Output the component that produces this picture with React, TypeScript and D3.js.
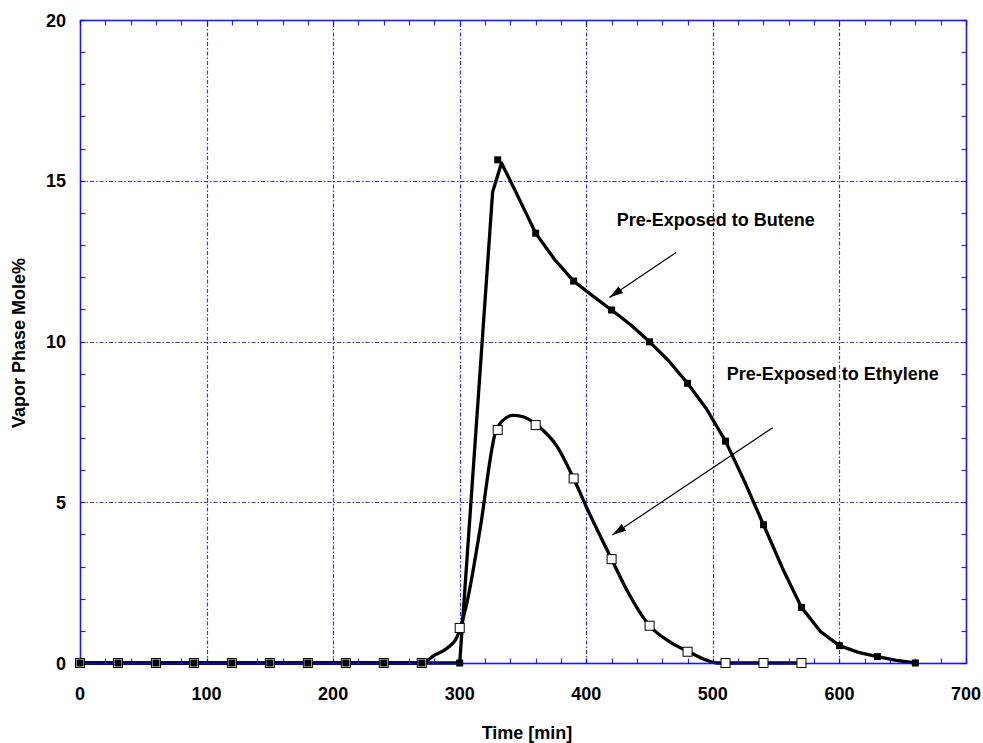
import React from "react";
import * as d3 from "d3";

// Marker data (minutes, vapor phase mole %)
const markerTimes = [0, 30, 60, 90, 120, 150, 180, 210, 240, 270, 300, 330, 360, 390, 420, 450, 480, 510, 540, 570, 600, 630, 660];
const buteneValues = [0, 0, 0, 0, 0, 0, 0, 0, 0, 0, 0, 15.65, 13.37, 11.88, 10.98, 9.99, 8.7, 6.9, 4.3, 1.73, 0.54, 0.2, 0];
const ethyleneTimes = [0, 30, 60, 90, 120, 150, 180, 210, 240, 270, 300, 330, 360, 390, 420, 450, 480, 510, 540, 570];
const ethyleneValues = [0, 0, 0, 0, 0, 0, 0, 0, 0, 0, 1.09, 7.25, 7.4, 5.74, 3.23, 1.16, 0.35, 0, 0, 0];

// Smoothed curves drawn through the data
const buteneCurveTimes = [0, 30, 60, 90, 120, 150, 180, 210, 240, 270, 300, 326, 333, 340, 348, 360, 375, 390, 405, 420, 435, 450, 465, 480, 495, 510, 525, 540, 555, 570, 585, 600, 615, 630, 645, 660];
const buteneCurveValues = [0, 0, 0, 0, 0, 0, 0, 0, 0, 0, 0, 14.65, 15.55, 15.0, 14.35, 13.37, 12.55, 11.88, 11.42, 10.98, 10.52, 9.99, 9.4, 8.7, 7.9, 6.9, 5.65, 4.3, 2.95, 1.73, 0.98, 0.54, 0.33, 0.2, 0.08, 0];
const ethyleneCurveTimes = [0, 30, 60, 90, 120, 150, 180, 210, 240, 270, 280, 290, 298, 305, 316, 328, 334, 342, 350, 361, 377, 390, 400, 420, 432, 450, 466, 481, 495, 503, 510, 540, 570];
const ethyleneCurveValues = [0, 0, 0, 0, 0, 0, 0, 0, 0, 0, 0.24, 0.46, 0.82, 1.75, 4.14, 7.14, 7.54, 7.7, 7.66, 7.4, 6.73, 5.74, 4.86, 3.23, 2.27, 1.16, 0.66, 0.35, 0.09, 0, 0, 0, 0];

const xTicks = [0, 100, 200, 300, 400, 500, 600, 700];
const yTicks = [0, 5, 10, 15, 20];

const annotations = [
  { label: "Pre-Exposed to Butene", tx: 424, ty: 13.6, from: [471, 12.77], to: [418.2, 11.37] },
  { label: "Pre-Exposed to Ethylene", tx: 511, ty: 8.8, from: [547.3, 7.32], to: [420.6, 3.98] },
];

const W = 983;
const H = 743;
const FONT = "'Liberation Sans', Arial, Helvetica, sans-serif";
const AXIS = "#0000ff";
const GRID = "#0000ff";

export default function App() {
  const x = d3.scaleLinear().domain([0, 700]).range([80, 966]);
  const y = d3.scaleLinear().domain([0, 20]).range([663, 20]);
  const px = (t: number) => Math.round(x(t)) + 0.5;
  const py = (v: number) => Math.round(y(v)) + 0.5;

  const butLine = d3
    .line<[number, number]>()
    .x((d) => x(d[0]))
    .y((d) => y(d[1]))
    .curve(d3.curveLinear);
  const ethLine = d3
    .line<[number, number]>()
    .x((d) => x(d[0]))
    .y((d) => y(d[1]))
    .curve(d3.curveMonotoneX);

  const butPts: [number, number][] = buteneCurveTimes.map((t, i) => [t, buteneCurveValues[i]]);
  const ethPts: [number, number][] = ethyleneCurveTimes.map((t, i) => [t, ethyleneCurveValues[i]]);

  const minorX = d3.range(0, 701, 20);
  const minorY = d3.range(0, 21, 1);
  const tickLen = 5;

  return (
    <svg width={W} height={H} style={{ position: "absolute", left: 0, top: 0, background: "#fff" }} fontFamily={FONT}>
      <defs>
        <marker id="arrow" viewBox="0 0 14 8" refX="14" refY="4" markerWidth="14" markerHeight="8" markerUnits="userSpaceOnUse" orient="auto">
          <path d="M0,0 L14,4 L0,8 Z" fill="#000" />
        </marker>
      </defs>
      <rect x={0} y={0} width={W} height={H} fill="#fff" />

      {/* grid */}
      <g>
        {xTicks.filter((t) => t > 0 && t < 700).map((t) => (
          <line key={"gx" + t} x1={px(t)} x2={px(t)} y1={py(0)} y2={py(20)} stroke={GRID} strokeOpacity={0.8} strokeWidth={1.2} strokeDasharray="4,2,1.5,2" />
        ))}
        {yTicks.filter((t) => t > 0 && t < 20).map((t) => (
          <line key={"gy" + t} x1={px(0)} x2={px(700)} y1={py(t)} y2={py(t)} stroke={GRID} strokeOpacity={0.8} strokeWidth={1.2} strokeDasharray="4,2,1.5,2" />
        ))}
      </g>

      {/* curves */}
      <path d={ethLine(ethPts) || ""} fill="none" stroke="#000" strokeWidth={3.3} strokeLinejoin="round" />
      <path d={butLine(butPts) || ""} fill="none" stroke="#000" strokeWidth={3.3} strokeLinejoin="round" />

      {/* frame + ticks */}
      <g>
        <rect x={px(0)} y={py(20)} width={px(700) - px(0)} height={py(0) - py(20)} fill="none" stroke={AXIS} strokeOpacity={0.9} strokeWidth={1.6} />
        {minorX.map((t) => (
          <g key={"tx" + t}>
            <line x1={px(t)} x2={px(t)} y1={py(0)} y2={py(0) - tickLen} stroke={AXIS} strokeOpacity={0.85} strokeWidth={1.2} />
            <line x1={px(t)} x2={px(t)} y1={py(20)} y2={py(20) + tickLen} stroke={AXIS} strokeOpacity={0.85} strokeWidth={1.2} />
          </g>
        ))}
        {minorY.map((t) => (
          <g key={"ty" + t}>
            <line x1={px(0)} x2={px(0) + tickLen} y1={py(t)} y2={py(t)} stroke={AXIS} strokeOpacity={0.85} strokeWidth={1.2} />
            <line x1={px(700)} x2={px(700) - tickLen} y1={py(t)} y2={py(t)} stroke={AXIS} strokeOpacity={0.85} strokeWidth={1.2} />
          </g>
        ))}
      </g>

      {/* markers */}
      {ethyleneTimes.map((t, i) => (
        <rect key={"em" + t} x={x(t) - 4.5} y={y(ethyleneValues[i]) - 4.5} width={9} height={9} fill="#fff" stroke="#000" strokeWidth={1} />
      ))}
      {markerTimes.map((t, i) => (
        <rect key={"bm" + t} x={x(t) - 3.5} y={y(buteneValues[i]) - 3.5} width={7} height={7} fill="#000" />
      ))}

      {/* tick labels */}
      {xTicks.map((t) => (
        <text key={"xl" + t} x={x(t)} y={700} textAnchor="middle" fontSize={18} fontWeight="bold" fill="#000">
          {t}
        </text>
      ))}
      {yTicks.map((t) => (
        <text key={"yl" + t} x={66} y={y(t) + 6.5} textAnchor="end" fontSize={18} fontWeight="bold" fill="#000">
          {t}
        </text>
      ))}

      {/* axis titles */}
      <text x={527} y={739} textAnchor="middle" fontSize={18} fontWeight="bold" fill="#000">
        Time [min]
      </text>
      <text transform="translate(25,343) rotate(-90)" textAnchor="middle" fontSize={18} fontWeight="bold" fill="#000">
        Vapor Phase Mole%
      </text>

      {/* annotations */}
      {annotations.map((a) => (
        <g key={a.label}>
          <text x={x(a.tx)} y={y(a.ty)} fontSize={18} fontWeight="bold" fill="#000">
            {a.label}
          </text>
          <line x1={x(a.from[0])} y1={y(a.from[1])} x2={x(a.to[0])} y2={y(a.to[1])} stroke="#000" strokeWidth={1.2} markerEnd="url(#arrow)" />
        </g>
      ))}
    </svg>
  );
}
